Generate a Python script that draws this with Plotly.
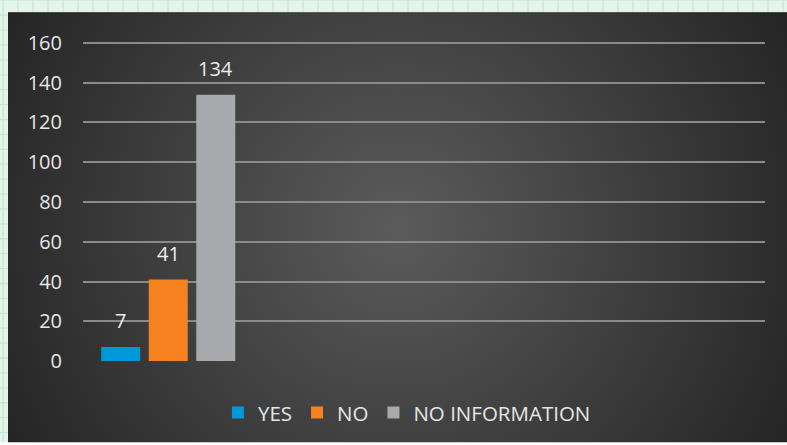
import base64
import plotly.graph_objects as go

# Data
series = ["YES", "NO", "NO INFORMATION"]
counts = [7, 41, 134]
colors = ["#0098da", "#f5821f", "#a8a9ad"]
groups = ["G1", "G2", "G3", "G4"]          # category slots on the x axis; only the first holds data
y_ticks = [0, 20, 40, 60, 80, 100, 120, 140, 160]
Y_MAX = 161.5                               # a little above the top tick so its gridline is drawn

W, H = 787, 445
M_L, M_R, M_T, M_B = 83, 22, 40, 82
BARGAP = 0.164
BARGROUPGAP = 0.179

# Background: mint grid paper with a dark radial-gradient panel on top
lines = []
for x in range(3, W, 15):
    lines.append(f'<line x1="{x}" y1="0" x2="{x}" y2="{H}" stroke="#c9e6d4" stroke-width="1.3"/>')
for y in range(0, H, 15):
    lines.append(f'<line x1="0" y1="{y}" x2="{W}" y2="{y}" stroke="#c9e6d4" stroke-width="1.3"/>')
svg = f'''<svg xmlns="http://www.w3.org/2000/svg" width="{W}" height="{H}" viewBox="0 0 {W} {H}" preserveAspectRatio="none">
<defs><radialGradient id="g" gradientUnits="userSpaceOnUse" cx="398" cy="228" r="450">
<stop offset="0" stop-color="#5b5b5b"/><stop offset="0.55" stop-color="#3d3d3d"/><stop offset="1" stop-color="#242424"/>
</radialGradient></defs>
<rect x="0" y="0" width="{W}" height="{H}" fill="#e5f4eb"/>
{''.join(lines)}
<rect x="8" y="12" width="{W - 8}" height="{H - 12}" fill="url(#g)"/>
</svg>'''
bg_uri = "data:image/svg+xml;base64," + base64.b64encode(svg.encode()).decode()

pw, ph = W - M_L - M_R, H - M_T - M_B

fig = go.Figure()
for name, val, col in zip(series, counts, colors):
    fig.add_trace(go.Bar(x=[groups[0]], y=[val], name=name, marker=dict(color=col, line=dict(width=0))))

# Value labels above each bar
n = len(series)
slot = (1 - BARGAP) / n
for i, val in enumerate(counts):
    fig.add_annotation(
        x=(i - (n - 1) / 2) * slot, y=val, xref="x", yref="y",
        text=str(val), showarrow=False, yanchor="bottom", yshift=11,
        font=dict(family="Open Sans", size=20, color="#ececec"),
    )

fig.update_layout(
    width=W, height=H,
    margin=dict(l=M_L, r=M_R, t=M_T, b=M_B, pad=0),
    paper_bgcolor="rgba(0,0,0,0)", plot_bgcolor="rgba(0,0,0,0)",
    barmode="group", bargap=BARGAP, bargroupgap=BARGROUPGAP,
    font=dict(family="Open Sans", size=20, color="#e6e6e6"),
    showlegend=True,
    legend=dict(orientation="h", x=0.475, xanchor="center", y=-0.161, yanchor="middle",
                font=dict(size=20.5, color="#e6e6e6"), bgcolor="rgba(0,0,0,0)",
                itemclick=False, traceorder="normal", tracegroupgap=0),
    images=[dict(source=bg_uri, xref="paper", yref="paper",
                 x=-M_L / pw, y=1 + M_T / ph, sizex=W / pw, sizey=H / ph,
                 xanchor="left", yanchor="top", sizing="stretch", layer="below")],
)
fig.update_xaxes(type="category", categoryorder="array", categoryarray=groups,
                 range=[-0.5, len(groups) - 0.5], showticklabels=False,
                 showgrid=False, zeroline=False, showline=False, ticks="")
fig.update_yaxes(range=[0, Y_MAX], tickvals=y_ticks, ticks="", showline=False,
                 showgrid=True, gridcolor="#8a8a8a", gridwidth=1.5,
                 zeroline=True, zerolinecolor="rgba(0,0,0,0)",
                 ticklabelstandoff=20, tickfont=dict(size=20, color="#e6e6e6"))

fig.write_html("out.html")
